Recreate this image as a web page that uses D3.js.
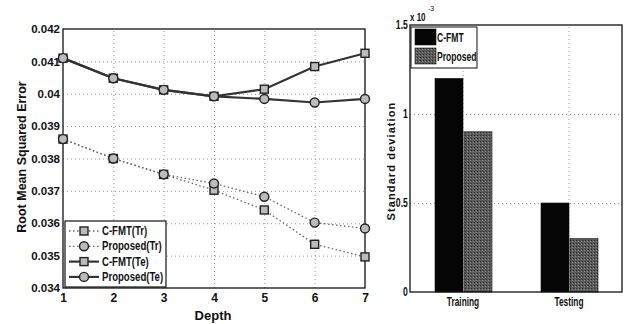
<!DOCTYPE html>
<html>
<head>
<script src="https://d3js.org/d3.v7.min.js"></script>
<style>
  body { margin:0; background:#fff; }
  text { font-family: "Liberation Sans", Arial, sans-serif; font-weight:bold; fill:#111; }
</style>
</head>
<body>
<script>
// left chart data
var depth = [1, 2, 3, 4, 5, 6, 7];
var cfmtTr = [0.0386, 0.0380, 0.03751, 0.03702, 0.03641, 0.03535, 0.03496];
var propTr = [0.0386, 0.0380, 0.03751, 0.03723, 0.03682, 0.03602, 0.03584];
var cfmtTe = [0.04110, 0.04048, 0.04012, 0.03992, 0.04014, 0.04084, 0.04125];
var propTe = [0.04110, 0.04048, 0.04012, 0.03992, 0.03984, 0.03973, 0.03984];
var yTicksL = [0.034, 0.035, 0.036, 0.037, 0.038, 0.039, 0.04, 0.041, 0.042];
var yTickLabelsL = ["0.034", "0.035", "0.036", "0.037", "0.038", "0.039", "0.04", "0.041", "0.042"];

// right chart data (x 10^-3)
var groups = ["Training", "Testing"];
var barSeries = ["C-FMT", "Proposed"];
var cfmtStd = [1.2, 0.5];
var propStd = [0.9, 0.3];
var yTicksR = [0, 0.5, 1, 1.5];

var svg = d3.select("body").append("svg")
    .attr("width", 627)
    .attr("height", 324);

var defs = svg.append("defs");
var pat = defs.append("pattern").attr("id", "grain")
    .attr("width", 3).attr("height", 3).attr("patternUnits", "userSpaceOnUse");
pat.append("rect").attr("width", 3).attr("height", 3).attr("fill", "#5a5a5a");
pat.append("rect").attr("width", 1).attr("height", 1).attr("fill", "#2a2a2a");
pat.append("rect").attr("x", 2).attr("y", 1).attr("width", 1).attr("height", 1).attr("fill", "#8a8a8a");

// ---------- left plot ----------
var xL = d3.scaleLinear().domain([1, 7]).range([63, 365]);
var yL = d3.scaleLinear().domain([0.034, 0.042]).range([288, 29]);

var gL = svg.append("g");

// grid
gL.append("g")
    .attr("transform", "translate(0,288)")
    .style("color", "#999")
    .call(d3.axisBottom(xL).tickValues(depth.slice(1, 6)).tickSize(-259).tickFormat(""))
    .call(function(g){ g.select(".domain").remove(); })
    .selectAll("line").attr("stroke-dasharray", "1,3");
gL.append("g")
    .attr("transform", "translate(63,0)")
    .style("color", "#999")
    .call(d3.axisLeft(yL).tickValues(yTicksL.slice(1, 8)).tickSize(-302).tickFormat(""))
    .call(function(g){ g.select(".domain").remove(); })
    .selectAll("line").attr("stroke-dasharray", "1,3");

// frame
gL.append("rect").attr("x", 63).attr("y", 29).attr("width", 302).attr("height", 259)
    .attr("fill", "none").attr("stroke", "#111").attr("stroke-width", 1.3);

// axes labels
var axB = gL.append("g").attr("transform", "translate(0,288)")
    .call(d3.axisBottom(xL).tickValues(depth).tickSize(0).tickPadding(5).tickFormat(d3.format("d")));
axB.select(".domain").remove();
axB.selectAll("text").style("font-size", "12px").style("font-family", "Liberation Sans").style("font-weight", "bold");

var axLft = gL.append("g").attr("transform", "translate(63,0)")
    .call(d3.axisLeft(yL).tickValues(yTicksL).tickSize(0).tickPadding(3)
      .tickFormat(function(d, i){ return yTickLabelsL[i]; }));
axLft.select(".domain").remove();
axLft.selectAll("text").style("font-size", "11.5px").style("font-family", "Liberation Sans").style("font-weight", "bold");

gL.append("text").attr("x", 213).attr("y", 320).attr("text-anchor", "middle")
    .style("font-size", "13px").text("Depth");
gL.append("text").attr("transform", "translate(26,157) rotate(-90)").attr("text-anchor", "middle")
    .style("font-size", "12.5px").text("Root Mean Squared Error");

var line = d3.line().x(function(d, i){ return xL(depth[i]); }).y(function(d){ return yL(d); });

var series = [
  { name: "C-FMT(Tr)", vals: cfmtTr, dash: "1.5,2.5", width: 1.3, color: "#666", marker: "square" },
  { name: "Proposed(Tr)", vals: propTr, dash: "1.5,2.5", width: 1.3, color: "#666", marker: "circle" },
  { name: "C-FMT(Te)", vals: cfmtTe, dash: null, width: 2.2, color: "#333", marker: "square" },
  { name: "Proposed(Te)", vals: propTe, dash: null, width: 2.2, color: "#333", marker: "circle" }
];

function drawMarker(g, type, cx, cy) {
  if (type === "square") {
    g.append("rect").attr("x", cx - 4).attr("y", cy - 4).attr("width", 8).attr("height", 8)
      .attr("fill", "#bbb").attr("stroke", "#222").attr("stroke-width", 1.4);
  } else {
    g.append("circle").attr("cx", cx).attr("cy", cy).attr("r", 4.5)
      .attr("fill", "#bbb").attr("stroke", "#222").attr("stroke-width", 1.4);
  }
}

series.forEach(function(s) {
  gL.append("path").datum(s.vals)
    .attr("d", line)
    .attr("fill", "none")
    .attr("stroke", s.color)
    .attr("stroke-width", s.width)
    .attr("stroke-dasharray", s.dash);
  s.vals.forEach(function(v, i) {
    drawMarker(gL, s.marker, xL(depth[i]), yL(v));
  });
});

// legend
var lg = gL.append("g");
lg.append("rect").attr("x", 65).attr("y", 221).attr("width", 101).attr("height", 66)
  .attr("fill", "#fff").attr("stroke", "#111").attr("stroke-width", 1.2);
series.forEach(function(s, i) {
  var yy = 231 + i * 15.3;
  lg.append("line").attr("x1", 69).attr("x2", 99).attr("y1", yy).attr("y2", yy)
    .attr("stroke", s.color).attr("stroke-width", s.width).attr("stroke-dasharray", s.dash);
  drawMarker(lg, s.marker, 84, yy);
  lg.append("text").attr("transform", "translate(102," + (yy + 4) + ") scale(0.8,1)")
    .style("font-size", "12px").text(s.name);
});

// ---------- right plot ----------
var xR = d3.scaleBand().domain(groups).range([410, 622]).paddingInner(0).paddingOuter(0);
var xSub = d3.scaleBand().domain(barSeries).range([0, 58]);
var yR = d3.scaleLinear().domain([0, 1.5]).range([292, 25]);

var gR = svg.append("g");

gR.append("g")
    .attr("transform", "translate(0,292)")
    .style("color", "#999")
    .call(d3.axisBottom(xR).tickSize(-267).tickFormat(""))
    .call(function(g){ g.select(".domain").remove(); })
    .selectAll("line").attr("stroke-dasharray", "1,3");
gR.append("g")
    .attr("transform", "translate(410,0)")
    .style("color", "#999")
    .call(d3.axisLeft(yR).tickValues([0.5, 1]).tickSize(-212).tickFormat(""))
    .call(function(g){ g.select(".domain").remove(); })
    .selectAll("line").attr("stroke-dasharray", "1,3");

var barFill = { "C-FMT": "#050505", "Proposed": "url(#grain)" };
groups.forEach(function(grp, gi) {
  var vals = { "C-FMT": cfmtStd[gi], "Proposed": propStd[gi] };
  var x0 = xR(grp) + xR.bandwidth() / 2 - 29;
  barSeries.forEach(function(s) {
    gR.append("rect")
      .attr("x", x0 + xSub(s) + 1)
      .attr("y", yR(vals[s]))
      .attr("width", xSub.bandwidth() - 1)
      .attr("height", yR(0) - yR(vals[s]))
      .attr("fill", barFill[s])
      .attr("stroke", "#111").attr("stroke-width", 0.6);
  });
});

gR.append("rect").attr("x", 410).attr("y", 25).attr("width", 212).attr("height", 267)
    .attr("fill", "none").attr("stroke", "#111").attr("stroke-width", 1.3);

var axRB = gR.append("g").attr("transform", "translate(0,292)")
    .call(d3.axisBottom(xR).tickSize(0).tickPadding(5));
axRB.select(".domain").remove();
axRB.selectAll("text").attr("transform", "scale(0.64,1)")
    .style("font-size", "13px").style("font-family", "Liberation Sans").style("font-weight", "bold");

var axRL = gR.append("g").attr("transform", "translate(410,0)")
    .call(d3.axisLeft(yR).tickValues(yTicksR).tickSize(0).tickPadding(3).tickFormat(d3.format("")));
axRL.select(".domain").remove();
axRL.selectAll("text").attr("transform", "scale(0.72,1)")
    .style("font-size", "12px").style("font-family", "Liberation Sans").style("font-weight", "bold");

gR.append("text").attr("transform", "translate(410,21) scale(0.8,1)").style("font-size", "10px")
    .text("x 10");
gR.append("text").attr("x", 428).attr("y", 11).style("font-size", "7px").style("font-weight", "normal")
    .text("-3");

gR.append("text").attr("transform", "translate(395,161) rotate(-90)").attr("text-anchor", "middle")
    .style("font-size", "11px").style("letter-spacing", "1.1px").text("Standard deviation");

// bar legend
var lgR = gR.append("g");
lgR.append("rect").attr("x", 411).attr("y", 27).attr("width", 66).attr("height", 41)
   .attr("fill", "#fff").attr("stroke", "#111").attr("stroke-width", 1);
barSeries.forEach(function(s, i) {
  var yy = 29 + i * 19;
  lgR.append("rect").attr("x", 415).attr("y", yy).attr("width", 21).attr("height", 16)
     .attr("fill", barFill[s]).attr("stroke", "#111").attr("stroke-width", 0.6);
  lgR.append("text").attr("transform", "translate(437," + (yy + 12.5) + ") scale(0.66,1)")
     .style("font-size", "13px").text(s);
});
</script>
</body>
</html>
